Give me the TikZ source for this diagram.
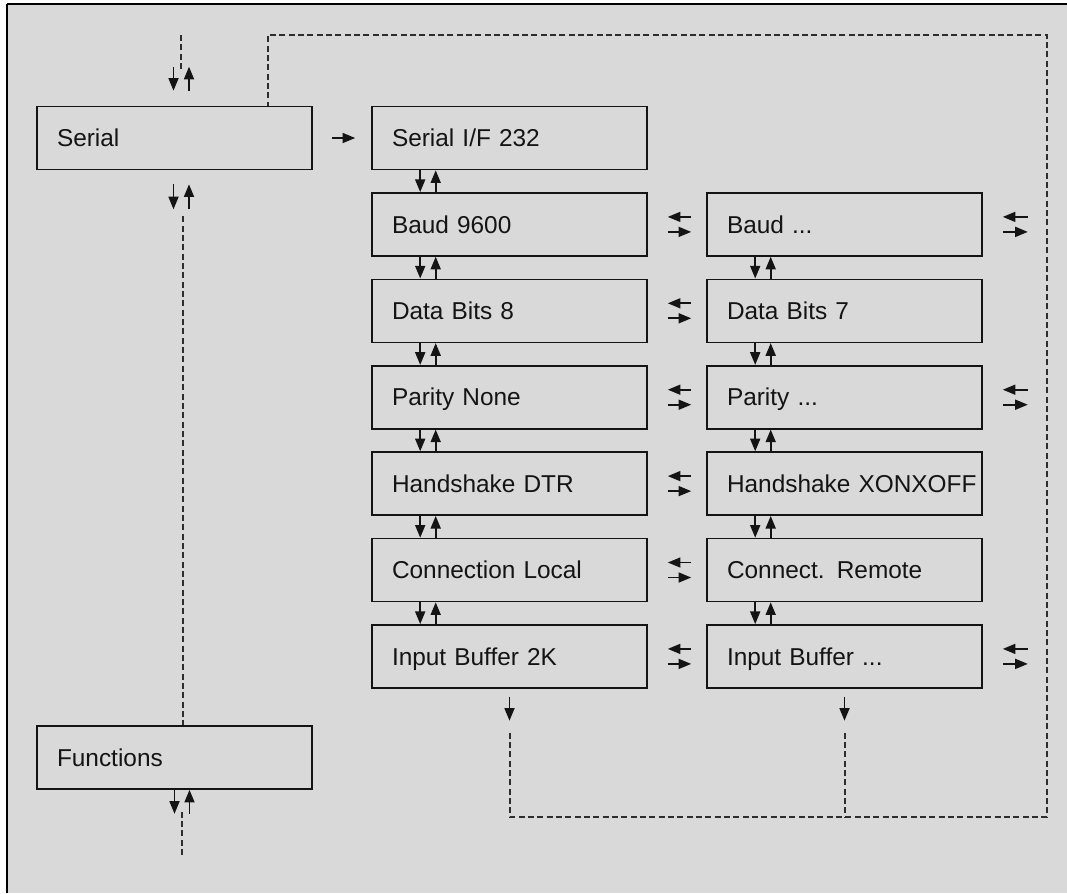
\documentclass[tikz,border=0pt]{standalone}
\usepackage{fontspec}
\setmainfont{Liberation Sans}
\usetikzlibrary{arrows.meta,calc,positioning}
\definecolor{mnuPaper}{RGB}{217,217,217}
\definecolor{mnuInk}{RGB}{20,20,20}
\definecolor{mnuDash}{RGB}{45,45,45}
\newcommand{\mnudots}{...}
\tikzset{
  menubox/.style={
    draw=mnuInk,
    fill=mnuPaper,
    line width=1.2pt,
    minimum height=47.25pt,
    text width=176.25pt,
    inner xsep=15pt,
    align=left,
    text height=13pt,
    text depth=0pt,
    font=\fontsize{18.3}{20}\selectfont,
    text=mnuInk
  },
  arr/.style={-{Triangle[length=9.5pt,width=7.5pt]},line width=1.3pt,draw=mnuInk},
  dashline/.style={draw=mnuDash,line width=1.5pt,dash pattern=on 4.5pt off 2.5pt}
}

\begin{document}
\begin{tikzpicture}[x=0.75pt,y=-0.75pt]
  \useasboundingbox (0,0) rectangle (1067,893);
  % frame
  \fill[white] (0,0) rectangle (1067,893);
  \fill[mnuPaper] (7,4) rectangle (1067,893);
  \draw[black,line width=1.9pt] (7,4) -- (7,893);
  \draw[black,line width=1.1pt] (7,4) -- (1067,4);

  % menu boxes
  \node[menubox] (serial) at (174.5,138) {Serial};
  \node[menubox] (functions) at (174.5,757.5) {Functions};
  \node[menubox] (val0) at (509.5,138) {Serial I/F 232};
  \foreach \i/\lt/\rt in {1/Baud 9600/Baud \mnudots,
                          2/Data Bits 8/Data Bits 7,
                          3/Parity None/Parity \mnudots,
                          4/Handshake DTR/Handshake XONXOFF,
                          5/Connection Local/Connect. Remote,
                          6/Input Buffer 2K/Input Buffer \mnudots} {
    \node[menubox] (val\i) at (509.5,138+86.4*\i) {\mbox{\lt}};
    \node[menubox] (opt\i) at (844.5,138+86.4*\i) {\mbox{\rt}};
    % swap between the columns
    \draw[arr] ($(opt\i.west)+(-15,-7.5)$) -- ($(val\i.east)+(20,-7.5)$);
    \draw[arr] ($(val\i.east)+(20,7.5)$) -- ($(opt\i.west)+(-15,7.5)$);
  }

  % up/down in the columns
  \foreach \i [evaluate=\i as \j using int(\i+1)] in {0,...,5} {
    \draw[arr] ($(val\i.south west)+(49,0)$) -- ($(val\j.north west)+(49,0)$);
    \draw[arr] ($(val\j.north west)+(64.5,0)$) -- ($(val\i.south west)+(64.5,0)$);
  }
  \foreach \i [evaluate=\i as \j using int(\i+1)] in {1,...,5} {
    \draw[arr] ($(opt\i.south west)+(49,0)$) -- ($(opt\j.north west)+(49,0)$);
    \draw[arr] ($(opt\j.north west)+(64.5,0)$) -- ($(opt\i.south west)+(64.5,0)$);
  }

  % swap on the right edge
  \foreach \i in {1,3,6} {
    \draw[arr] ($(opt\i.east)+(45,-7.5)$) -- ($(opt\i.east)+(20,-7.5)$);
    \draw[arr] ($(opt\i.east)+(20,7.5)$) -- ($(opt\i.east)+(45,7.5)$);
  }

  \draw[arr] ($(serial.east)+(19,0)$) -- ($(val0.west)+(-16,0)$);

  % Serial, above and below
  \coordinate (intop) at (181,35);
  \draw[dashline] (intop) -- (181,72);
  \draw[arr] ($(serial.north)+(-1,-39)$) -- ($(serial.north)+(-1,-15)$);
  \draw[arr] ($(serial.north)+(14.5,-15)$) -- ($(serial.north)+(14.5,-39)$);
  \draw[arr] ($(serial.south)+(-1,14)$) -- ($(serial.south)+(-1,39)$);
  \draw[arr] ($(serial.south)+(14.5,39)$) -- ($(serial.south)+(14.5,14)$);
  \draw[dashline] ($(serial.south)+(8,46)$) -- ($(functions.north)+(8,0)$);

  % Functions, below
  \draw[arr] ($(functions.south)+(0,0)$) -- ($(functions.south)+(0,24)$);
  \draw[arr] ($(functions.south)+(15,24)$) -- ($(functions.south)+(15,0)$);
  \coordinate (outbot) at (182,855);
  \draw[dashline] ($(functions.south)+(7.5,22)$) -- (outbot);

  % return path
  \draw[arr] ($(val6.south)+(0,8)$) -- ($(val6.south)+(0,32)$);
  \draw[arr] ($(opt6.south)+(0,8)$) -- ($(opt6.south)+(0,32)$);
  \coordinate (rbot) at (1047,817);
  \coordinate (rtop) at (1047,35);
  \draw[dashline] ($(val6.south)+(0,44)$) |- (rbot) -- (rtop) -| ($(serial.north)+(93.5,0)$);
  \draw[dashline] ($(opt6.south)+(0,44)$) -- ($(opt6.south)+(0,129)$);
\end{tikzpicture}
\end{document}
